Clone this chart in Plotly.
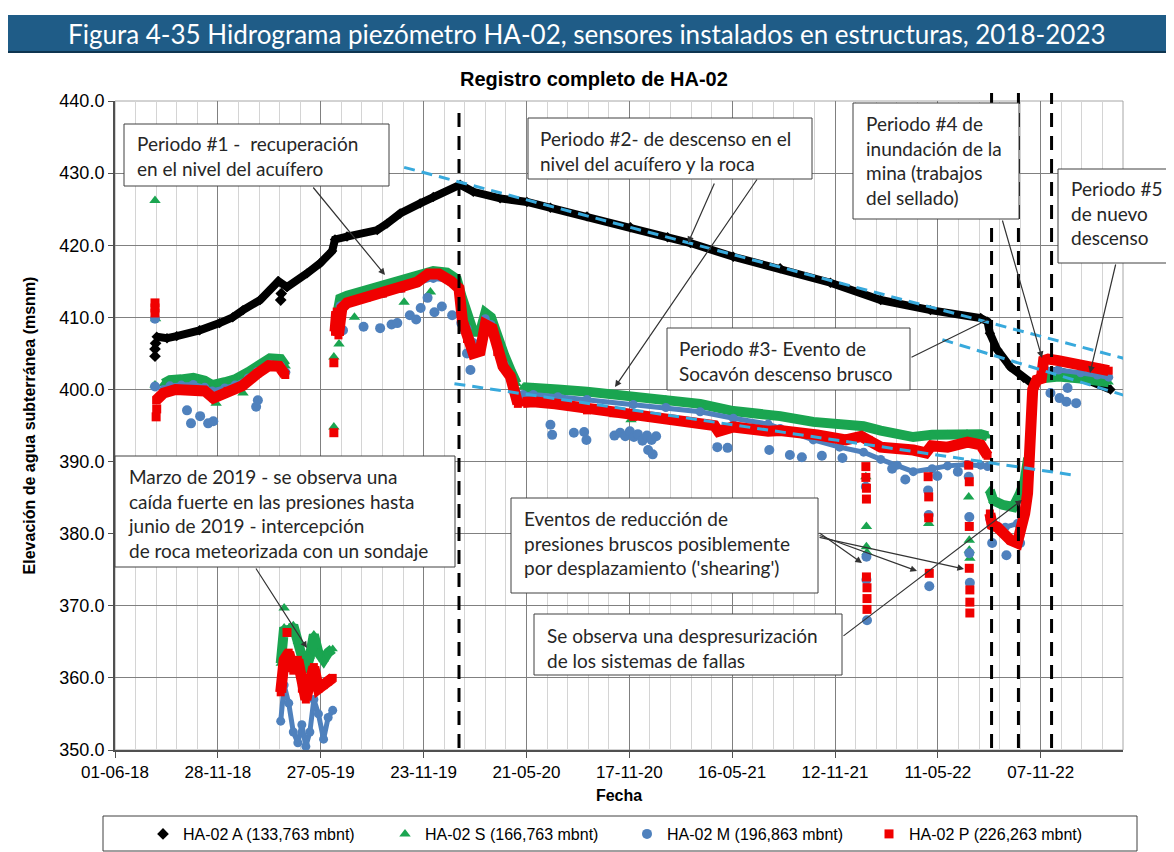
import plotly.graph_objects as go

W, H = 1174, 852
OFF = 8  # page body margin of the html page

# ---------------- data ----------------
# HA-02 A (black) – continuous record
A_dates = ['2018-08-13', '2018-08-31', '2018-09-17', '2018-10-27', '2018-12-01', '2018-12-24',
           '2019-01-11', '2019-02-10', '2019-03-14', '2019-03-29', '2019-05-03', '2019-05-26',
           '2019-06-16', '2019-06-21', '2019-07-12', '2019-09-03', '2019-09-20', '2019-10-13',
           '2019-11-17', '2019-12-10', '2020-01-26', '2020-02-18', '2020-04-05', '2020-05-22',
           '2020-07-02', '2020-09-04', '2020-11-19', '2021-01-23', '2021-03-04', '2021-05-18',
           '2021-08-08', '2021-11-04', '2022-01-31', '2022-04-28', '2022-07-25', '2022-08-06',
           '2022-08-10', '2022-08-23', '2022-09-15', '2022-10-08', '2022-10-25', '2022-11-10',
           '2022-12-06', '2023-01-16', '2023-03-09']
A_vals = [407.3, 407.1, 407.4, 408.2, 409.2, 410.0,
          411.0, 412.4, 415.0, 414.2, 416.1, 417.5,
          419.2, 420.8, 421.2, 422.1, 423.0, 424.4,
          425.8, 426.7, 428.4, 427.4, 426.5, 426.0,
          425.2, 424.0, 422.5, 421.1, 420.3, 418.4,
          416.8, 414.8, 412.4, 411.0, 409.9, 409.4,
          407.8, 405.5, 403.1, 401.6, 400.7, 402.2,
          402.6, 401.7, 400.0]
A_out_dates = ['2018-08-10', '2018-08-10', '2018-08-11', '2019-03-18', '2019-03-19']
A_out_vals = [404.6, 405.6, 406.4, 412.4, 413.3]

# HA-02 S (green)
S_seg1_dates = ['2018-08-25', '2018-09-05', '2018-09-25', '2018-10-16', '2018-11-05', '2018-11-18',
                '2018-12-10', '2018-12-28', '2019-01-20', '2019-02-05', '2019-02-27', '2019-03-18',
                '2019-03-27']
S_seg1_vals = [400.8, 401.3, 401.4, 401.6, 401.2, 400.6, 401.0, 401.4, 402.4, 403.3, 404.3, 404.2, 403.2]
S_seg2_dates = ['2019-03-18', '2019-03-24', '2019-04-01', '2019-04-09', '2019-04-17', '2019-04-24',
                '2019-05-01', '2019-05-08', '2019-05-15', '2019-05-23', '2019-06-01', '2019-06-09',
                '2019-06-17']
S_seg2_vals = [362.0, 367.0, 366.0, 367.3, 365.0, 362.5, 361.0, 363.0, 366.0, 363.5, 362.5, 363.5, 364.0]
S_seg3_dates = ['2019-06-24', '2019-06-30', '2019-07-12', '2019-08-15', '2019-09-13', '2019-10-15',
                '2019-11-12', '2019-12-10', '2020-01-03', '2020-01-20', '2020-01-28', '2020-02-07',
                '2020-02-18', '2020-03-01', '2020-03-10', '2020-03-20', '2020-04-01', '2020-04-12',
                '2020-04-24', '2020-05-04']
S_seg3_vals = [410.0, 412.6, 413.0, 413.8, 414.3, 415.0, 415.8, 416.4, 416.2, 415.3, 413.0, 410.0,
               408.0, 408.0, 410.6, 410.0, 407.0, 404.8, 402.5, 400.8]
S_seg4_dates = ['2020-05-15', '2020-06-02', '2020-07-15', '2020-09-04', '2020-11-24', '2021-01-20',
                '2021-03-21', '2021-05-18', '2021-07-18', '2021-08-08', '2021-10-05', '2021-11-20',
                '2022-01-01', '2022-01-31', '2022-03-01', '2022-03-29', '2022-05-01', '2022-05-28',
                '2022-07-01', '2022-07-25', '2022-08-06']
S_seg4_vals = [400.3, 400.3, 400.0, 399.7, 399.0, 398.6, 398.0, 397.0, 396.5, 396.3, 395.5, 395.2,
               394.9, 394.3, 393.8, 393.4, 393.7, 393.8, 393.9, 393.8, 393.5]
S_seg5_dates = ['2022-08-10', '2022-08-16', '2022-09-01', '2022-09-20', '2022-10-02', '2022-10-10',
                '2022-10-16']
S_seg5_vals = [386.0, 384.6, 384.0, 383.7, 385.6, 387.4, 390.5]
S_seg6_dates = ['2022-11-14', '2022-12-08', '2023-01-16', '2023-02-14', '2023-03-06']
S_seg6_vals = [401.6, 401.8, 401.5, 401.3, 401.0]
S_out_dates = ['2018-08-10', '2018-08-10', '2018-08-11', '2018-11-25', '2019-01-11', '2019-03-24',
               '2019-06-19', '2019-06-19', '2019-06-28', '2019-07-25', '2019-10-20', '2019-12-05',
               '2020-11-20',
               '2022-01-05', '2022-01-06', '2022-01-06', '2022-01-07',
               '2022-04-25',
               '2022-07-04', '2022-07-05', '2022-07-05', '2022-07-06']
S_out_vals = [426.2, 400.6, 409.8, 398.1, 399.5, 369.7,
              404.5, 394.8, 406.3, 410.0, 412.1, 413.5,
              395.8,
              387.9, 381.0, 378.2, 377.4,
              381.4,
              385.1, 379.1, 377.7, 376.6]

# HA-02 M (blue)
M_seg1_dates = S_seg1_dates
M_seg1_vals = [400.0, 400.5, 400.6, 400.7, 400.3, 399.8, 400.2, 400.6, 401.6, 402.5, 403.5, 403.3, 402.4]
M_seg2_dates = S_seg2_dates
M_seg2_vals = [354.0, 359.0, 356.5, 352.5, 351.0, 353.5, 350.5, 352.5, 357.0, 355.0, 351.5, 354.5, 355.5]
M_seg3_dates = S_seg3_dates
M_seg3_vals = [409.0, 411.6, 412.0, 412.8, 413.3, 414.0, 414.8, 415.4, 415.2, 414.3, 411.5, 408.5,
               406.5, 406.5, 409.8, 409.0, 406.0, 403.5, 401.5, 399.5]
M_seg4_dates = S_seg4_dates
M_seg4_vals = [399.3, 399.3, 399.0, 398.6, 397.9, 397.5, 396.9, 396.0, 395.2, 394.6, 393.0, 392.0,
               391.3, 390.3, 389.5, 388.6, 389.0, 389.4, 389.6, 389.5, 389.3]
M_seg5_dates = ['2022-08-10', '2022-08-20', '2022-09-06', '2022-09-27', '2022-10-08', '2022-10-16']
M_seg5_vals = [382.0, 381.2, 380.9, 381.4, 383.0, 388.0]
M_seg6_dates = ['2022-11-14', '2022-12-08', '2023-01-16', '2023-02-14', '2023-03-06']
M_seg6_vals = [402.8, 402.7, 402.3, 402.0, 401.7]
M_out_dates = ['2018-08-10', '2018-08-10', '2018-10-05', '2018-10-12', '2018-10-28', '2018-11-11',
               '2018-11-20', '2019-02-03', '2019-02-06',
               '2019-06-21', '2019-07-05', '2019-08-10', '2019-09-08', '2019-09-28', '2019-10-08',
               '2019-10-30', '2019-11-10', '2019-11-18', '2019-11-30', '2019-12-12', '2019-12-25',
               '2020-01-12', '2020-01-28', '2020-02-07', '2020-02-13',
               '2020-07-02', '2020-07-05', '2020-08-12', '2020-08-30', '2020-09-03',
               '2020-10-22', '2020-11-01', '2020-11-10', '2020-11-18', '2020-11-25', '2020-12-02',
               '2020-12-10', '2020-12-18', '2020-12-26', '2021-01-03', '2020-12-20', '2020-12-28',
               '2021-04-20', '2021-05-08', '2021-07-20', '2021-08-25', '2021-09-15', '2021-10-20',
               '2021-11-25', '2022-02-20', '2022-03-15', '2022-05-10', '2022-06-15',
               '2022-01-05', '2022-01-06', '2022-01-06', '2022-01-07',
               '2022-04-24', '2022-04-25', '2022-04-26',
               '2022-07-04', '2022-07-05', '2022-07-05', '2022-07-06',
               '2022-08-14', '2022-09-08', '2022-10-02', '2022-11-24', '2022-12-10', '2022-12-22',
               '2023-01-08', '2022-12-24']
M_out_vals = [409.8, 400.4, 397.1, 395.3, 396.3, 395.3,
              395.6, 397.6, 398.5,
              408.6, 408.2, 408.7, 408.5, 409.0, 409.2,
              410.3, 409.7, 411.3, 412.7, 410.7, 411.5,
              410.3, 409.2, 405.0, 402.7,
              395.1, 393.7, 394.0, 394.1, 393.0,
              393.6, 394.0, 393.5, 394.2, 393.4, 393.8,
              392.9, 393.6, 393.0, 393.5, 391.6, 391.0,
              392.0, 391.9, 391.6, 390.9, 390.6, 390.8,
              390.5, 389.0, 387.5, 388.0, 388.6,
              386.5, 376.8, 373.6, 368.0,
              386.0, 382.6, 372.7,
              387.9, 382.3, 377.3, 373.2,
              378.7, 377.0, 378.7, 399.5, 398.8, 398.3,
              398.1, 400.2]

# HA-02 P (red)
P_seg1_dates = ['2018-08-12', '2018-08-25', '2018-09-15', '2018-10-10', '2018-11-05', '2018-11-20',
                '2018-12-15', '2019-01-10', '2019-02-05', '2019-02-25', '2019-03-15', '2019-03-26']
P_seg1_vals = [398.5, 399.5, 400.0, 399.8, 399.8, 398.8, 399.8, 400.5, 402.2, 403.3, 403.2, 402.0]
P_seg2_dates = S_seg2_dates
P_seg2_vals = [358.0, 362.5, 363.5, 361.0, 362.5, 358.5, 357.0, 359.5, 361.5, 358.5, 359.0, 359.5, 360.0]
P_seg3_dates = ['2019-06-21', '2019-06-24', '2019-06-27', '2019-07-03', '2019-07-12', '2019-08-15',
                '2019-09-13', '2019-10-15', '2019-11-12', '2019-12-01', '2019-12-20', '2020-01-10',
                '2020-01-24', '2020-01-30', '2020-02-07', '2020-02-18', '2020-03-01', '2020-03-10',
                '2020-03-22', '2020-03-31', '2020-04-10', '2020-04-23', '2020-05-01', '2020-05-06']
P_seg3_vals = [408.0, 410.8, 407.5, 411.3, 412.0, 412.7, 413.3, 414.0, 414.9, 416.0, 416.0, 415.0,
               414.0, 409.5, 407.0, 405.0, 405.3, 409.0, 408.5, 405.2, 403.2, 401.8, 399.5, 398.0]
P_seg4_dates = ['2020-05-15', '2020-06-02', '2020-07-10', '2020-08-17', '2020-09-04', '2020-10-20',
                '2020-11-24', '2021-01-23', '2021-03-21', '2021-04-15', '2021-04-22', '2021-05-18',
                '2021-07-18', '2021-08-08', '2021-10-12', '2021-12-01', '2021-12-28', '2022-01-10',
                '2022-01-31', '2022-03-29', '2022-04-20', '2022-04-30', '2022-05-28', '2022-07-02',
                '2022-07-25', '2022-08-06']
P_seg4_vals = [398.2, 398.3, 398.0, 397.6, 397.1, 396.7, 396.2, 395.8, 395.3, 395.0, 394.2, 394.8,
               394.2, 394.3, 393.7, 393.0, 393.5, 393.0, 392.0, 391.6, 391.2, 392.2, 392.0, 392.7,
               392.3, 390.8]
P_seg5_dates = ['2022-08-10', '2022-08-14', '2022-08-23', '2022-09-15', '2022-09-27', '2022-10-02',
                '2022-10-10', '2022-10-15', '2022-10-18', '2022-10-21', '2022-10-24', '2022-10-31',
                '2022-11-08', '2022-11-12', '2022-11-20', '2022-12-08', '2023-01-16', '2023-02-14',
                '2023-03-06']
P_seg5_vals = [382.8, 381.2, 380.9, 379.1, 378.7, 380.1, 382.8, 385.6, 389.8, 396.7, 400.0, 401.3,
               401.5, 404.0, 404.2, 404.0, 403.4, 403.0, 402.6]
P_out_dates = ['2018-08-10', '2018-08-10', '2018-08-10', '2018-08-12', '2018-08-13',
               '2019-03-29', '2019-06-19', '2019-06-19',
               '2022-01-05', '2022-01-05', '2022-01-06', '2022-01-06', '2022-01-06', '2022-01-07',
               '2022-01-07', '2022-01-07',
               '2022-04-24', '2022-04-25', '2022-04-25', '2022-04-26',
               '2022-07-04', '2022-07-05', '2022-07-05', '2022-07-05', '2022-07-06', '2022-07-06',
               '2022-07-06']
P_out_vals = [412.0, 411.3, 410.6, 396.2, 397.3,
              366.3, 403.7, 394.0,
              389.3, 387.8, 386.3, 384.8, 374.0, 372.5, 371.0, 369.5,
              387.9, 385.1, 382.2, 374.5,
              389.5, 387.2, 381.0, 375.2, 372.2, 370.5, 369.0]

# Trend lines (hand-drawn dashed, cyan): start/end date and value
trend_lines = [
    (('2019-10-20', 430.8), ('2023-06-03', 403.0)),
    (('2022-05-19', 406.9), ('2023-05-29', 397.8)),
    (('2020-01-16', 400.8), ('2023-01-05', 388.1)),
]
# Period separators (vertical dashed lines)
period_dates = ['2020-01-24', '2022-08-13', '2022-09-29', '2022-11-26']

series_names = ['HA-02 A (133,763 mbnt)', 'HA-02 S (166,763 mbnt)',
                'HA-02 M (196,863 mbnt)', 'HA-02 P (226,263 mbnt)']
series_colors = ['#000000', '#1AA550', '#4F81BD', '#F00000']
series_symbols = ['diamond', 'triangle-up', 'circle', 'square']

DAY = 86400000


def join(*segs):
    xs, ys = [], []
    for d, v in segs:
        if xs:
            xs.append(None)
            ys.append(None)
        xs += list(d)
        ys += list(v)
    return xs, ys


def px(x):
    return (x - OFF) / W


def py(y):
    return 1 - (y - OFF) / H


bands = [
    join((A_dates, A_vals)),
    join((S_seg1_dates, S_seg1_vals), (S_seg2_dates, S_seg2_vals), (S_seg3_dates, S_seg3_vals),
         (S_seg4_dates, S_seg4_vals), (S_seg5_dates, S_seg5_vals), (S_seg6_dates, S_seg6_vals)),
    join((M_seg1_dates, M_seg1_vals), (M_seg2_dates, M_seg2_vals), (M_seg3_dates, M_seg3_vals),
         (M_seg4_dates, M_seg4_vals), (M_seg5_dates, M_seg5_vals), (M_seg6_dates, M_seg6_vals)),
    join((P_seg1_dates, P_seg1_vals), (P_seg2_dates, P_seg2_vals), (P_seg3_dates, P_seg3_vals),
         (P_seg4_dates, P_seg4_vals), (P_seg5_dates, P_seg5_vals)),
]
outliers = [(A_out_dates, A_out_vals), (S_out_dates, S_out_vals),
            (M_out_dates, M_out_vals), (P_out_dates, P_out_vals)]
band_widths = [8, 10, 5, 11]
marker_sizes = [9, 10, 10, 9]

fig = go.Figure()
for i in range(4):
    bx, by = bands[i]
    fig.add_trace(go.Scatter(
        x=bx, y=by, mode='lines+markers', showlegend=False, hoverinfo='skip',
        line=dict(color=series_colors[i], width=band_widths[i]),
        marker=dict(symbol=series_symbols[i], size=marker_sizes[i] - 1, color=series_colors[i])))
    ox, oy = outliers[i]
    fig.add_trace(go.Scatter(
        x=ox, y=oy, mode='markers', name=series_names[i],
        marker=dict(symbol=series_symbols[i], size=marker_sizes[i], color=series_colors[i])))

shapes = []
# period separators
for k, d in enumerate(period_dates):
    top = 107 if k == 0 else 93
    shapes.append(dict(type='line', xref='x', yref='paper', x0=d, x1=d,
                       y0=py(748), y1=py(top), line=dict(color='black', width=3, dash='14px,9px'),
                       layer='above'))
# trend lines
for (d0, v0), (d1, v1) in trend_lines:
    shapes.append(dict(type='line', xref='x', yref='y', x0=d0, y0=v0, x1=d1, y1=v1,
                       line=dict(color='#38A9DC', width=3, dash='11px,7px'), layer='above'))
# plot frame (top/right light)
shapes.append(dict(type='rect', xref='paper', yref='paper', x0=px(115), x1=px(1123),
                   y0=py(750), y1=py(101), line=dict(color='#A6A6A6', width=1), layer='below'))
# header bar
shapes.append(dict(type='rect', xref='paper', yref='paper', x0=px(7), x1=px(1190),
                   y0=py(52), y1=py(15), fillcolor='#1F5C87', line=dict(width=0), layer='above'))
shapes.append(dict(type='line', xref='paper', yref='paper', x0=px(7), x1=px(1190),
                   y0=py(52), y1=py(52), line=dict(color='#0E3550', width=2), layer='above'))
# legend frame
shapes.append(dict(type='rect', xref='paper', yref='paper', x0=px(103), x1=px(1137),
                   y0=py(851), y1=py(816), line=dict(color='#404040', width=1), layer='above'))

# annotation boxes: (left, top, right, bottom, text_left, text_top, text)
boxes = [
    (124, 124, 389, 186, 135, 130, 'Periodo #1 -  recuperación<br>en el nivel del acuífero'),
    (528, 118, 812, 179, 538, 125, 'Periodo #2- de descenso en el<br>nivel del acuífero y la roca'),
    (667, 328, 910, 390, 677, 335, 'Periodo #3- Evento de<br>Socavón descenso brusco'),
    (853, 103, 1019, 219, 864, 110, 'Periodo #4 de<br>inundación de la<br>mina (trabajos<br>del sellado)'),
    (1058, 169, 1170, 263, 1069, 175, 'Periodo #5<br>de nuevo<br>descenso'),
    (115, 456, 455, 567, 126, 463, 'Marzo de 2019 - se observa una<br>caída fuerte en las presiones hasta'
                                   '<br>junio de 2019 - intercepción<br>de roca meteorizada con un sondaje'),
    (511, 498, 818, 593, 522, 505, 'Eventos de reducción de<br>presiones bruscos posiblemente'
                                   "<br>por desplazamiento ('shearing')"),
    (534, 614, 842, 675, 545, 622, 'Se observa una despresurización<br>de los sistemas de fallas'),
]
annotations = []
for (l, t, r, b, tl, tt, txt) in boxes:
    shapes.append(dict(type='rect', xref='paper', yref='paper', x0=px(l), x1=px(r),
                       y0=py(b), y1=py(t), fillcolor='white',
                       line=dict(color='#404040', width=1), layer='above'))
    annotations.append(dict(xref='paper', yref='paper', x=px(tl), y=py(tt), xanchor='left',
                            yanchor='top', align='left', showarrow=False, text=txt,
                            font=dict(family='Lato', size=19, color='#262626')))

# arrows: (tail x, tail y, head x, head y, head style)
arrows = [
    (312, 186, 385, 275, 2), (715, 182, 688, 243, 2), (758, 178, 615, 387, 2),
    (910, 358, 987, 320, 0), (1002, 219, 1042, 358, 2), (1116, 263, 1090, 373, 2),
    (255, 567, 307, 648, 2), (818, 532, 862, 563, 2), (818, 535, 917, 571, 2),
    (818, 537, 964, 569, 2), (842, 637, 1022, 500, 2),
]
for (tx, ty, hx, hy, hs) in arrows:
    annotations.append(dict(xref='paper', yref='paper', x=px(hx), y=py(hy), axref='pixel',
                            ayref='pixel', ax=tx - hx, ay=ty - hy, text='', showarrow=True,
                            arrowhead=hs, arrowsize=1.1, arrowwidth=1.2, arrowcolor='#333333',
                            standoff=0, startstandoff=0))

# header text and chart title
annotations.append(dict(xref='paper', yref='paper', x=px(587), y=py(34), xanchor='center',
                        yanchor='middle', showarrow=False,
                        text='Figura 4-35 Hidrograma piezómetro HA-02, sensores instalados en estructuras, 2018-2023',
                        font=dict(family='Lato', size=26, color='white')))
annotations.append(dict(xref='paper', yref='paper', x=px(594), y=py(79), xanchor='center',
                        yanchor='middle', showarrow=False, text='<b>Registro completo de HA-02</b>',
                        font=dict(family='Liberation Sans, Arial', size=20, color='black')))

fig.update_layout(
    width=W, height=H, margin=dict(l=0, r=0, t=0, b=0, autoexpand=False),
    paper_bgcolor='white', plot_bgcolor='white',
    font=dict(family='Liberation Sans, Arial, sans-serif', color='black', size=16),
    shapes=shapes, annotations=annotations,
    legend=dict(orientation='h', xref='container', yref='container', x=px(143), y=py(834),
                xanchor='left', yanchor='middle',
                entrywidth=197, entrywidthmode='pixels', itemwidth=30,
                font=dict(size=16, family='Liberation Sans, Arial'), bgcolor='rgba(0,0,0,0)'),
    xaxis=dict(
        type='date', domain=[px(115), px(1123)], automargin=False,
        range=['2018-06-01', '2023-03-31'],
        tick0='2018-06-01', dtick=180 * DAY, tickformat='%d-%m-%y',
        showgrid=True, gridcolor='#808080', gridwidth=1,
        minor=dict(dtick=36 * DAY, tick0='2018-06-01', showgrid=True, gridcolor='#D4D4D4', gridwidth=1),
        showline=True, linecolor='#505050', linewidth=2,
        ticks='outside', ticklen=6, tickcolor='#505050',
        tickfont=dict(size=17), zeroline=False,
        title=dict(text='<b>Fecha</b>', font=dict(size=16), standoff=8),
    ),
    yaxis=dict(
        domain=[py(750), py(101)], range=[350, 440], dtick=10, tickformat='.1f', automargin=False,
        showgrid=True, gridcolor='#808080', gridwidth=1,
        showline=True, linecolor='#505050', linewidth=2,
        ticks='outside', ticklen=5, tickcolor='#505050',
        tickfont=dict(size=18), zeroline=False,
        title=dict(text='<b>Elevación de agua subterránea (msnm)</b>', font=dict(size=16), standoff=20),
    ),
)

fig.write_html('out.html')
